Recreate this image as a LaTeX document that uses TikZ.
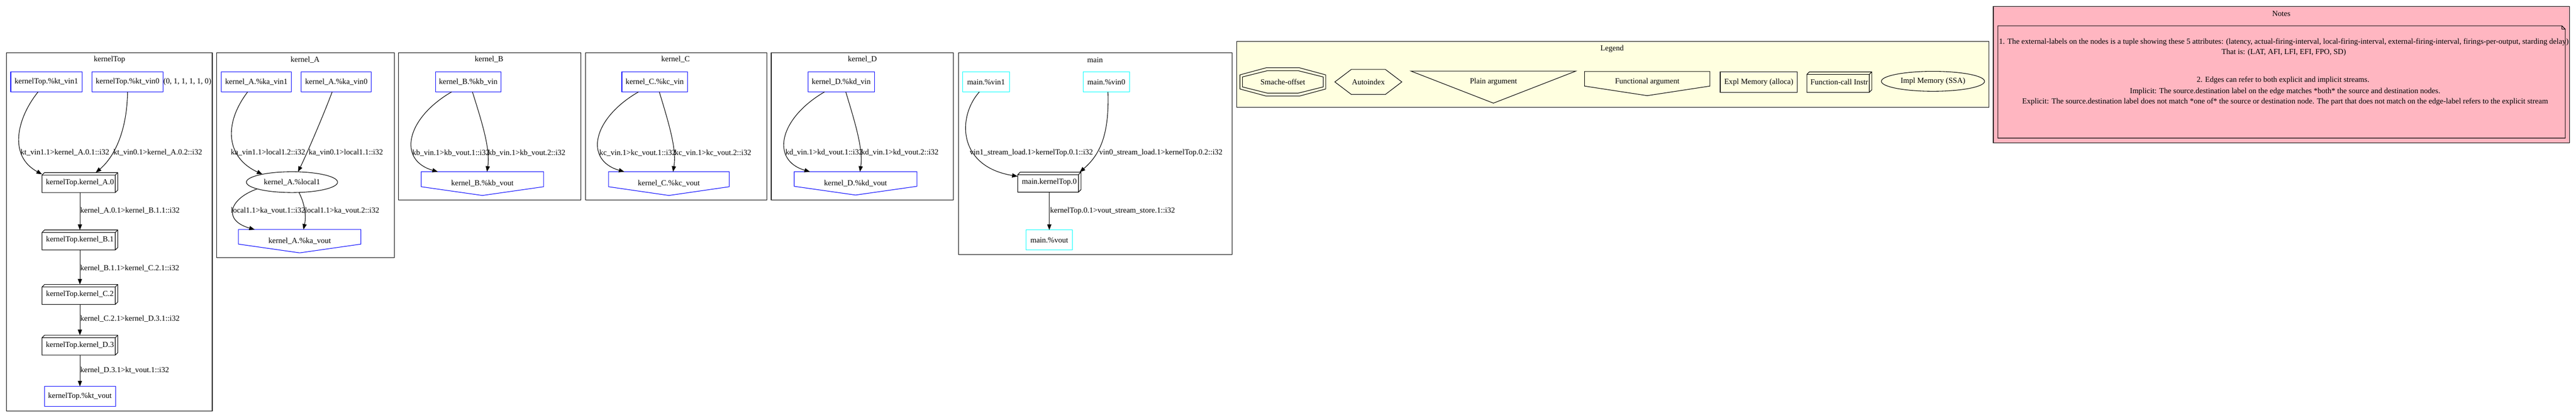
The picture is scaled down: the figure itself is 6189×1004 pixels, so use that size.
\documentclass[tikz,border=0pt]{standalone}
\usepackage{fontspec}
\setmainfont{Liberation Serif}
\usetikzlibrary{arrows.meta,shapes.geometric}
\definecolor{gvblue}{HTML}{0000FF}
\definecolor{gvcyan}{HTML}{00FFFF}
\definecolor{lyellow}{HTML}{FFFFE0}
\definecolor{lpink}{HTML}{FFB6C1}
\newcommand\gvfont{\fontsize{14pt}{16.8pt}\selectfont}
\newcommand\boxthreed[1]{%
  \draw[line width=1pt] ([shift={(0,6)}]#1.north west) rectangle ([shift={(-6,0)}]#1.south east)
    ([shift={(0,6)}]#1.north west) -- ([shift={(6,0)}]#1.north west) -- (#1.north east)
    -- ([shift={(0,-6)}]#1.south east) -- ([shift={(-6,0)}]#1.south east)
    ([shift={(-6,6)}]#1.north east) -- (#1.north east);}
\newcommand\invhouse[3][gvblue]{%
  \draw[#1, line width=1pt] (#2.north west) -- (#2.north east) -- ([shift={(0,-#3)}]#2.south east)
    -- (#2.south) -- ([shift={(0,-#3)}]#2.south west) -- cycle;}
\tikzset{
  every node/.style={font=\gvfont, inner sep=0pt, outer sep=0pt},
  cl/.style={draw=black, line width=1pt},
  ibox/.style={draw=gvblue, line width=1pt, minimum width=#1*0.75pt, minimum height=36pt},
  cbox/.style={draw=gvcyan, line width=1pt, minimum width=#1*0.75pt, minimum height=36pt},
  fbox/.style={minimum width=#1*0.75pt, minimum height=36pt},
  obox/.style={minimum width=#1*0.75pt, minimum height=42pt},
  flow/.style={line width=1pt, -{Triangle[length=10pt,width=7.5pt]}},
  elab/.style={anchor=center},
}
\begin{document}
\begin{tikzpicture}[x=0.75pt,y=-0.75pt]
\useasboundingbox (0,0) rectangle (6189,1004);
\fill[white] (0,0) rectangle (6189,1004);

% ---------------- clusters ----------------
\draw[cl] (16,127) rectangle (510,988);
\node (tkt) at (263,144) {kernelTop};
\draw[cl] (521,127) rectangle (947,620);
\node (tka) at (733,144) {kernel\_A};
\draw[cl] (957,127) rectangle (1396,481);
\node (tkb) at (1175,143) {kernel\_B};
\draw[cl] (1407,127) rectangle (1842,481);
\node (tkc) at (1623,143) {kernel\_C};
\draw[cl] (1853,127) rectangle (2291,481);
\node (tkd) at (2072,143) {kernel\_D};
\draw[cl] (2303,127) rectangle (2960,612);
\node (tmain) at (2631,144) {main};
\draw[cl, fill=lyellow] (2971,100) rectangle (4779,258);
\node (tleg) at (3873,117) {Legend};
\draw[cl, fill=lpink] (4789,16) rectangle (6173,343);
\node (tnotes) at (5481,33) {Notes};

% ---------------- kernelTop ----------------
\node[ibox=171] (ktvinone) at (111.5,197) {kernelTop.\%kt\_vin1};
\node[ibox=171] (ktvinzero) at (306.5,197) {kernelTop.\%kt\_vin0};
\node (ktxl) at (450,197) {(0, 1, 1, 1, 1, 0)};
\node[fbox=182] (ktA) at (192,439) {kernelTop.kernel\_A.0}; \boxthreed{ktA}
\node[fbox=182] (ktB) at (192,577) {kernelTop.kernel\_B.1}; \boxthreed{ktB}
\node[fbox=182] (ktC) at (192,708) {kernelTop.kernel\_C.2}; \boxthreed{ktC}
\node[fbox=182] (ktD) at (192,830) {kernelTop.kernel\_D.3}; \boxthreed{ktD}
\node[ibox=171] (ktvout) at (192,953) {kernelTop.\%kt\_vout};

\draw[flow] ([shift={(-20,0)}]ktvinone.south) .. controls (40,285) and (20,375) .. ([shift={(0,4)}]ktA.north west);
\draw[flow] (ktvinzero.south) .. controls (305,320) and (272,380) .. ([shift={(38,0)}]ktA.north);
\draw[flow] (ktA.south) -- (ktB.north);
\draw[flow] (ktB.south) -- (ktC.north);
\draw[flow] (ktC.south) -- (ktD.north);
\draw[flow] (ktD.south) -- (ktvout.north);
\node (l1) at (156,367) {kt\_vin1.1>kernel\_A.0.1::i32};
\node (l2) at (379,367) {kt\_vin0.1>kernel\_A.0.2::i32};
\node[anchor=west] (l3) at (193,507) {kernel\_A.0.1>kernel\_B.1.1::i32};
\node[anchor=west] (l4) at (193,645) {kernel\_B.1.1>kernel\_C.2.1::i32};
\node[anchor=west] (l5) at (193,767) {kernel\_C.2.1>kernel\_D.3.1::i32};
\node[anchor=west] (l6) at (193,890) {kernel\_D.3.1>kt\_vout.1::i32};

% ---------------- kernel_A ----------------
\node[ibox=168] (kavinone) at (616,197) {kernel\_A.\%ka\_vin1};
\node[ibox=168] (kavinzero) at (808,197) {kernel\_A.\%ka\_vin0};
\node[draw, line width=1pt, ellipse, minimum width=219*0.75pt, minimum height=50*0.75pt] (local) at (701.5,438) {kernel\_A.\%local1};
\node[obox=294, minimum height=56*0.75pt] (kavout) at (720,580) {kernel\_A.\%ka\_vout}; \invhouse{kavout}{21}
\draw[flow] ([shift={(-21,0)}]kavinone.south) .. controls (535,300) and (545,380) .. (local.165);
\draw[flow] ([shift={(-10,0)}]kavinzero.south) .. controls (780,270) and (735,375) .. (local.60);
\draw[flow] (local.191) .. controls (550,478) and (535,530) .. ([shift={(-108,0)}]kavout.north);
\draw[flow] (local.304) .. controls (735,495) and (735,525) .. ([shift={(9,0)}]kavout.north);
\node (la1) at (644,367) {ka\_vin1.1>local1.2::i32};
\node (la2) at (831,367) {ka\_vin0.1>local1.1::i32};
\node (la3) at (644,507) {local1.1>ka\_vout.1::i32};
\node (la4) at (822,507) {local1.1>ka\_vout.2::i32};

% ---------------- kernel_B ----------------
\node[ibox=158] (kbvin) at (1125,197) {kernel\_B.\%kb\_vin};
\node[obox=294, minimum height=57*0.75pt] (kbvout) at (1159,441.5) {kernel\_B.\%kb\_vout}; \invhouse{kbvout}{21}
\draw[flow] ([shift={(-40,0)}]kbvin.south) .. controls (975,285) and (955,385) .. ([shift={(-107,0)}]kbvout.north);
\draw[flow] ([shift={(10,0)}]kbvin.south) .. controls (1160,300) and (1178,360) .. ([shift={(11,0)}]kbvout.north);
\node (lb1) at (1083.5,368) {kb\_vin.1>kb\_vout.1::i32};
\node (lb2) at (1265.5,368) {kb\_vin.1>kb\_vout.2::i32};

% ---------------- kernel_C ----------------
\node[ibox=158] (kcvin) at (1573,197) {kernel\_C.\%kc\_vin};
\node[obox=290, minimum height=57*0.75pt] (kcvout) at (1607,441.5) {kernel\_C.\%kc\_vout}; \invhouse{kcvout}{21}
\draw[flow] ([shift={(-39,0)}]kcvin.south) .. controls (1423,285) and (1403,385) .. ([shift={(-107,0)}]kcvout.north);
\draw[flow] ([shift={(11,0)}]kcvin.south) .. controls (1608,300) and (1626,360) .. ([shift={(10,0)}]kcvout.north);
\node (lc1) at (1532,368) {kc\_vin.1>kc\_vout.1::i32};
\node (lc2) at (1713,368) {kc\_vin.1>kc\_vout.2::i32};

% ---------------- kernel_D ----------------
\node[ibox=160] (kdvin) at (2021,197) {kernel\_D.\%kd\_vin};
\node[obox=295, minimum height=56*0.75pt] (kdvout) at (2055.5,441) {kernel\_D.\%kd\_vout}; \invhouse{kdvout}{21}
\draw[flow] ([shift={(-40,0)}]kdvin.south) .. controls (1871,285) and (1851,385) .. ([shift={(-109.5,0)}]kdvout.north);
\draw[flow] ([shift={(11,0)}]kdvin.south) .. controls (2056,300) and (2074,360) .. ([shift={(10.5,0)}]kdvout.north);
\node (ld1) at (1980,367) {kd\_vin.1>kd\_vout.1::i32};
\node (ld2) at (2162,367) {kd\_vin.1>kd\_vout.2::i32};

% ---------------- main ----------------
\node[cbox=112] (mvinone) at (2369,197) {main.\%vin1};
\node[cbox=112] (mvinzero) at (2658,197) {main.\%vin0};
\node[fbox=152] (mkt) at (2521,438) {main.kernelTop.0}; \boxthreed{mkt}
\node[cbox=112] (mvout) at (2521,577) {main.\%vout};
\draw[flow] ([shift={(-16,0)}]mvinone.south) .. controls (2300,280) and (2300,400) .. ([shift={(0,-14)}]mkt.west);
\draw[flow] ([shift={(4,0)}]mvinzero.south) .. controls (2665,320) and (2645,370) .. ([shift={(-3,0)}]mkt.north east);
\draw[flow] (mkt.south) -- (mvout.north);
\node (lm1) at (2478,367) {vin1\_stream\_load.1>kernelTop.0.1::i32};
\node (lm2) at (2789,367) {vin0\_stream\_load.1>kernelTop.0.2::i32};
\node[anchor=west] (lm3) at (2523,507) {kernelTop.0.1>vout\_stream\_store.1::i32};

% ---------------- Legend ----------------
\node (lso) at (3082,197) {Smache-offset};
\begin{scope}[shift={(lso.center)}]
  \draw[line width=1pt] (-40,-34) -- (40,-34) -- (103,-17) -- (103,17) -- (40,34) -- (-40,34) -- (-103,17) -- (-103,-17) -- cycle;
  \draw[line width=1pt] (-37,-27) -- (37,-27) -- (97,-12) -- (97,12) -- (37,27) -- (-37,27) -- (-97,12) -- (-97,-12) -- cycle;
\end{scope}
\node (lai) at (3287.5,197) {Autoindex};
\begin{scope}[shift={(lai.center)}]
  \draw[line width=1pt] (-80.5,0) -- (-41,-30) -- (41,-30) -- (80.5,0) -- (41,30) -- (-41,30) -- cycle;
\end{scope}
\node (lpa) at (3588,197) {Plain argument};
\begin{scope}[shift={(lpa.center)}]
  \draw[line width=1pt] (-198,-26) -- (198,-26) -- (0,51) -- cycle;
\end{scope}
\node (lfa) at (3957.5,197) {Functional argument};
\begin{scope}[shift={(lfa.center)}]
  \draw[line width=1pt] (-150.5,-25) -- (150.5,-25) -- (150.5,10) -- (0,33) -- (-150.5,10) -- cycle;
\end{scope}
\node[draw, line width=1pt, minimum width=185*0.75pt, minimum height=49*0.75pt] (lem) at (4225.5,197.5) {Expl Memory (alloca)};
\node[fbox=156, minimum height=49*0.75pt] (lfc) at (4419,197.5) {Function-call Instr}; \boxthreed{lfc}
\node[draw, line width=1pt, ellipse, minimum width=248*0.75pt, minimum height=48*0.75pt] (lim) at (4644,195.5) {Impl Memory (SSA)};

% ---------------- Notes ----------------
\node[minimum width=1363*0.75pt, minimum height=270*0.75pt] (notebox) at (5481.5,197) {};
\draw[line width=1pt, fill=lpink] (notebox.north west) -- ([shift={(-8,0)}]notebox.north east) -- ([shift={(0,8)}]notebox.north east) -- (notebox.south east) -- (notebox.south west) -- cycle
  ([shift={(-8,0)}]notebox.north east) -- ([shift={(-8,8)}]notebox.north east) -- ([shift={(0,8)}]notebox.north east);
\node (n1) at (5487,101) {1. The external-labels on the nodes is a tuple showing these 5 attributes: (latency, actual-firing-interval, local-firing-interval, external-firing-interval, firings-per-output, starding delay)};
\node (n2) at (5487,126) {That is: (LAT, AFI, LFI, EFI, FPO, SD)};
\node (n3) at (5485,193) {2. Edges can refer to both explicit and implicit streams.};
\node (n4) at (5490,220) {Implicit: The source.destination label on the edge matches *both* the source and destination nodes.};
\node (n5) at (5490,245) {Explicit: The source.destination label does not match *one of* the source or destination node. The part that does not match on the edge-label refers to the explicit stream};
\end{tikzpicture}
\end{document}
